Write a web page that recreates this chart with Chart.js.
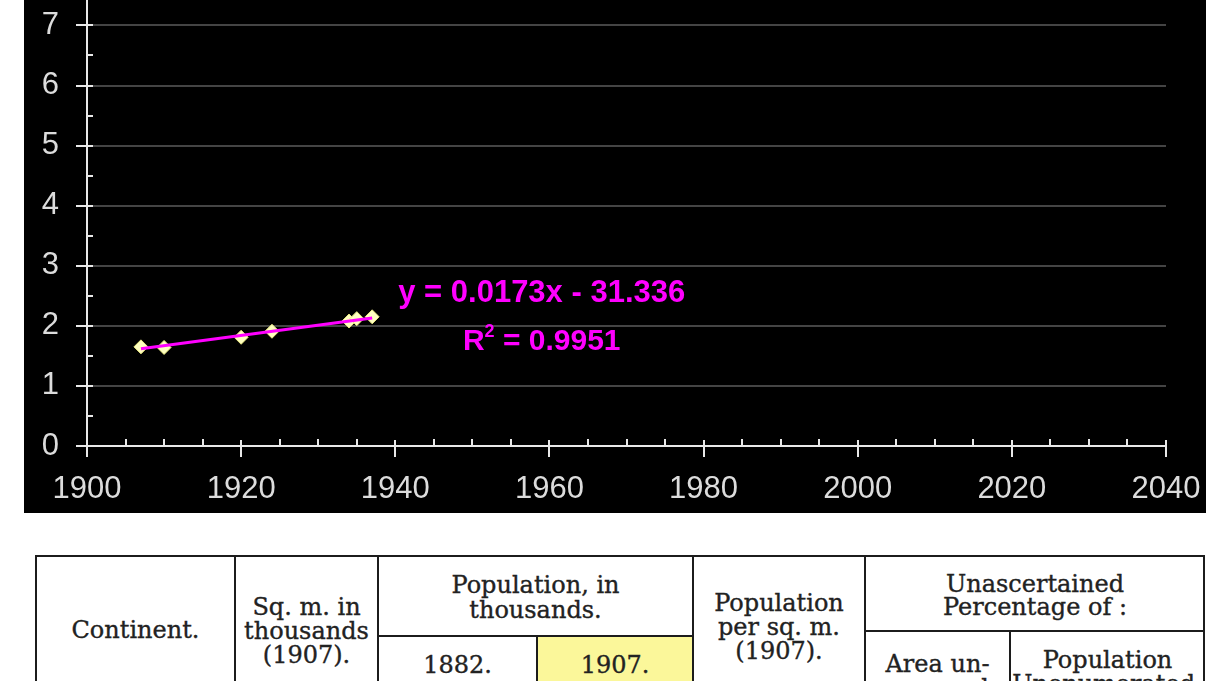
<!DOCTYPE html>
<html>
<head>
<meta charset="utf-8">
<script src="https://cdn.jsdelivr.net/npm/chart.js@4.4.1/dist/chart.umd.min.js"></script>
<style>
  html, body { margin: 0; padding: 0; background: #ffffff; width: 1206px; height: 681px; overflow: hidden; }
  #plot { position: absolute; left: 24px; top: 0; width: 1182px; height: 513px; background: #000; }
  #plot canvas { display: block; }
  .ln { position: absolute; background: #1c1c1c; }
  .tx { position: absolute; font-family: "DejaVu Serif", "Liberation Serif", serif; font-size: 24px; line-height: 24px; color: #222; text-align: center; white-space: nowrap; -webkit-text-stroke: 0.35px #222; }
  .cell { position: absolute; background: #fbf79a; }
</style>
</head>
<body>
<div id="plot"><canvas id="c" width="1182" height="513"></canvas></div>

<div class="cell" style="left:537px; top:636px; width:156px; height:45px;"></div>

<div class="ln" style="left:36px; top:555px; width:1169px; height:2px;"></div>
<div class="ln" style="left:35px; top:555px; width:2px; height:126px;"></div>
<div class="ln" style="left:234px; top:555px; width:2px; height:126px;"></div>
<div class="ln" style="left:377px; top:555px; width:2px; height:126px;"></div>
<div class="ln" style="left:692px; top:555px; width:2px; height:126px;"></div>
<div class="ln" style="left:864px; top:555px; width:2px; height:126px;"></div>
<div class="ln" style="left:1203px; top:555px; width:2px; height:126px;"></div>
<div class="ln" style="left:378px; top:635px; width:315px; height:2px;"></div>
<div class="ln" style="left:536px; top:636px; width:2px; height:45px;"></div>
<div class="ln" style="left:865px; top:630px; width:340px; height:2px;"></div>
<div class="ln" style="left:1009px; top:631px; width:2px; height:50px;"></div>

<div class="tx" style="left:36px; top:618px; width:199px;">Continent.</div>
<div class="tx" style="left:235px; top:595px; width:143px;">Sq. m. in<br>thousands<br>(1907).</div>
<div class="tx" style="left:378px; top:573px; width:315px; line-height:25px;">Population, in<br>thousands.</div>
<div class="tx" style="left:378px; top:653px; width:159px;">1882.</div>
<div class="tx" style="left:537px; top:653px; width:156px;">1907.</div>
<div class="tx" style="left:693px; top:591px; width:172px;">Population<br>per sq. m.<br>(1907).</div>
<div class="tx" style="left:865px; top:573px; width:340px; line-height:23px;">Unascertained<br>Percentage of :</div>
<div class="tx" style="left:865px; top:652px; width:145px;">Area un-<br>surveyed.</div>
<div class="tx" style="left:1010px; top:648px; width:195px;">Population<br>Unenumerated.</div>

<script>
// ---- data ----
const years = [1907, 1910, 1920, 1924, 1934, 1935, 1937];
const values = [1.65, 1.64, 1.81, 1.91, 2.08, 2.12, 2.15];
const trendYears = [1907, 1937];
const trendValues = [1.62, 2.13];
const xTickLabels = [1900, 1920, 1940, 1960, 1980, 2000, 2020, 2040];
const yTickLabels = [0, 1, 2, 3, 4, 5, 6, 7];
const equationText = 'y = 0.0173x - 31.336';
const r2Value = '0.9951';
const labelAnchorX = 1959;
const equationY = 2.39;
const r2Y = 1.59;

const points = years.map((x, i) => ({ x: x, y: values[i] }));
const trend = trendYears.map((x, i) => ({ x: x, y: trendValues[i] }));
const tickFont = { family: '"Liberation Sans", Arial, sans-serif', size: 31 };

const axisPlugin = {
  id: 'axisTicks',
  afterDraw(chart) {
    const ctx = chart.ctx;
    const xs = chart.scales.x, ys = chart.scales.y;
    const ax = xs.getPixelForValue(1900);
    const ay = ys.getPixelForValue(0);
    ctx.save();
    ctx.strokeStyle = '#e8e8e8';
    ctx.lineWidth = 2;
    ctx.beginPath();
    for (let v = 1905; v <= 2040; v += 5) {
      const px = Math.round(xs.getPixelForValue(v));
      if (v % 20 === 0) { ctx.moveTo(px, ay - 6); ctx.lineTo(px, ay + 11); }
      else { ctx.moveTo(px, ay - 7); ctx.lineTo(px, ay); }
    }
    ctx.moveTo(ax, ay); ctx.lineTo(ax, ay + 11);
    for (let v = 0.5; v <= 7.01; v += 0.5) {
      const py = Math.round(ys.getPixelForValue(v));
      if (Math.abs(v - Math.round(v)) < 1e-6) { ctx.moveTo(ax - 11, py); ctx.lineTo(ax + 6, py); }
      else { ctx.moveTo(ax, py); ctx.lineTo(ax + 6, py); }
    }
    ctx.moveTo(ax - 11, ay); ctx.lineTo(ax, ay);
    ctx.moveTo(ax, 0); ctx.lineTo(ax, ay);
    ctx.stroke();

    // regression label
    ctx.fillStyle = '#ff00ff';
    ctx.textBaseline = 'alphabetic';
    const cx = xs.getPixelForValue(labelAnchorX);
    ctx.font = 'bold 31px "Liberation Sans", Arial, sans-serif';
    ctx.textAlign = 'center';
    ctx.fillText(equationText, cx, ys.getPixelForValue(equationY));
    const big = 'bold 30px "Liberation Sans", Arial, sans-serif';
    const small = 'bold 18px "Liberation Sans", Arial, sans-serif';
    ctx.font = big; const wR = ctx.measureText('R').width;
    const rest = ' = ' + r2Value; const wRest = ctx.measureText(rest).width;
    ctx.font = small; const w2 = ctx.measureText('2').width;
    const total = wR + w2 + wRest;
    let lx = cx - total / 2;
    const by = ys.getPixelForValue(r2Y);
    ctx.textAlign = 'left';
    ctx.font = big; ctx.fillText('R', lx, by); lx += wR;
    ctx.font = small; ctx.fillText('2', lx, by - 13); lx += w2;
    ctx.font = big; ctx.fillText(rest, lx, by);
    ctx.restore();
  }
};

new Chart(document.getElementById('c'), {
  type: 'scatter',
  data: {
    datasets: [
      {
        type: 'line',
        data: trend,
        borderColor: '#ff00ff',
        borderWidth: 3,
        pointRadius: 0,
        fill: false,
        tension: 0
      },
      {
        data: points,
        pointStyle: 'rectRot',
        pointRadius: 7,
        backgroundColor: '#ffffc0',
        borderColor: '#e8e880',
        borderWidth: 1
      }
    ]
  },
  options: {
    responsive: false,
    animation: false,
    devicePixelRatio: 1,
    layout: { padding: { top: 0, right: 40, left: 0, bottom: 0 } },
    plugins: { legend: { display: false }, tooltip: { enabled: false } },
    scales: {
      x: {
        type: 'linear',
        min: 1900, max: 2040,
        afterBuildTicks: (s) => { s.ticks = xTickLabels.map(v => ({ value: v })); },
        afterFit: (s) => { s.height = 67; s.paddingLeft = 0; s.paddingRight = 0; },
        grid: { display: false, drawTicks: false },
        border: { display: true, color: '#e8e8e8', width: 2 },
        ticks: {
          color: '#dcdcdc',
          padding: 25,
          maxRotation: 0,
          autoSkip: false,
          font: tickFont,
          callback: (v) => String(v)
        }
      },
      y: {
        type: 'linear',
        min: 0, max: 7.29,
        afterBuildTicks: (s) => { s.ticks = yTickLabels.map(v => ({ value: v })); },
        afterFit: (s) => { s.width = 63; s.paddingTop = 0; s.paddingBottom = 0; },
        grid: { display: true, color: '#444444', lineWidth: 2, drawTicks: false },
        border: { display: true, color: '#e8e8e8', width: 2 },
        ticks: {
          color: '#dcdcdc',
          padding: 28,
          font: tickFont,
          callback: (v) => String(v)
        }
      }
    }
  },
  plugins: [axisPlugin]
});
</script>
</body>
</html>
